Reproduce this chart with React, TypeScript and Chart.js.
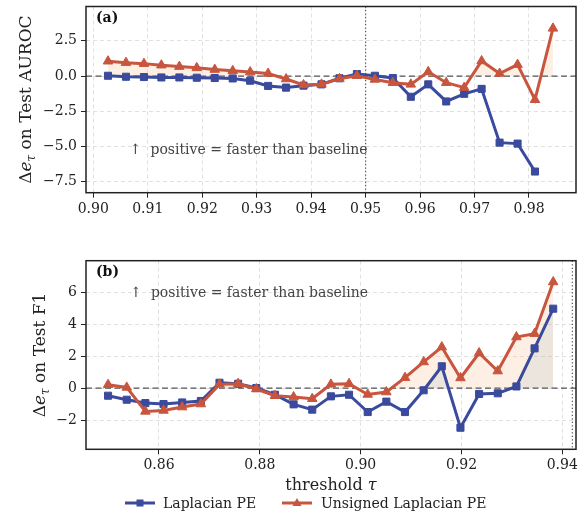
import React, { useEffect, useRef } from 'react';
import { Chart, registerables } from 'chart.js';
Chart.register(...registerables);

// ---------- data ----------
const xA = [0.9027, 0.9060, 0.9093, 0.9125, 0.9158, 0.9190, 0.9223, 0.9256, 0.9288, 0.9321, 0.9354, 0.9386, 0.9419,
  0.9452, 0.9484, 0.9517, 0.9550, 0.9583, 0.9615, 0.9648, 0.9681, 0.9713, 0.9746, 0.9779, 0.9811, 0.9844];
const blueA = [0.02, -0.05, -0.07, -0.10, -0.10, -0.12, -0.14, -0.17, -0.33, -0.70, -0.82, -0.68, -0.59,
  -0.16, 0.14, 0.02, -0.14, -1.47, -0.59, -1.80, -1.26, -0.91, -4.72, -4.79, -6.77];
const redA = [1.05, 0.95, 0.88, 0.77, 0.67, 0.58, 0.46, 0.37, 0.28, 0.18, -0.21, -0.63, -0.59,
  -0.19, 0.02, -0.24, -0.47, -0.59, 0.30, -0.47, -0.82, 1.07, 0.18, 0.81, -1.68, 3.38];

const xB = [0.8499, 0.8536, 0.8573, 0.8609, 0.8646, 0.8683, 0.8720, 0.8757, 0.8793, 0.8830, 0.8867, 0.8904, 0.8941,
  0.8977, 0.9014, 0.9051, 0.9088, 0.9125, 0.9161, 0.9198, 0.9235, 0.9272, 0.9309, 0.9345, 0.9382];
const blueB = [-0.48, -0.73, -0.94, -1.00, -0.90, -0.81, 0.33, 0.27, 0.00, -0.42, -1.02, -1.35, -0.52,
  -0.42, -1.50, -0.85, -1.50, -0.14, 1.36, -2.48, -0.37, -0.33, 0.10, 2.48, 4.96];
const redB = [0.21, 0.04, -1.46, -1.40, -1.19, -1.00, 0.23, 0.27, -0.06, -0.48, -0.56, -0.67, 0.23,
  0.27, -0.40, -0.25, 0.65, 1.63, 2.56, 0.63, 2.19, 1.06, 3.19, 3.40, 6.63];

const xTicksA = [0.90, 0.91, 0.92, 0.93, 0.94, 0.95, 0.96, 0.97, 0.98];
const yTicksA = [-7.5, -5.0, -2.5, 0.0, 2.5];
const xTicksB = [0.86, 0.88, 0.90, 0.92, 0.94];
const yTicksB = [-2, 0, 2, 4, 6];

const seriesNames = ['Laplacian PE', 'Unsigned Laplacian PE'];
const annotationText = '\u2191  positive = faster than baseline';

// ---------- style ----------
const FONT = '"DejaVu Serif", serif';
const BLUE = '#3A4A9C';
const RED = '#C8553D';

function fmt(v: number, d: number) {
  const s = Math.abs(v).toFixed(d);
  return v < -1e-9 ? '\u2212' + s : s;
}

type Panel = {
  canvasH: number; padTop: number; xAxisH: number;
  xMin: number; xMax: number; yMin: number; yMax: number;
  xTicks: number[]; yTicks: number[]; xDec: number; yDec: number;
  x: number[]; blue: number[]; red: number[];
  label: string; yTitleTail: string; yTitleX: number;
  annX: number; annY: number; vline: number; showXTitle: boolean;
};

function drawYTitle(ctx: CanvasRenderingContext2D, cx: number, cy: number, tail: string) {
  const size = 17;
  const parts: [string, string, number][] = [
    ['\u0394', `${size}px ${FONT}`, 0],
    ['e', `italic ${size}px ${FONT}`, 0],
    ['\u03c4', `italic ${Math.round(size * 0.7)}px ${FONT}`, size * 0.22],
    [tail, `${size}px ${FONT}`, 0],
  ];
  ctx.save();
  ctx.translate(cx, cy);
  ctx.rotate(-Math.PI / 2);
  ctx.fillStyle = '#222';
  ctx.textBaseline = 'alphabetic';
  ctx.textAlign = 'left';
  let total = 0;
  const widths = parts.map(([t, f]) => { ctx.font = f; const w = ctx.measureText(t).width; total += w; return w; });
  let px = -total / 2;
  parts.forEach(([t, f, dy], i) => {
    ctx.font = f;
    ctx.fillText(t, px, size * 0.35 + dy);
    px += widths[i];
  });
  ctx.restore();
}

function makeDeco(p: Panel) {
  return {
    id: 'deco',
    beforeDatasetsDraw(chart: any) {
      const { ctx, chartArea: a, scales } = chart;
      const xs = scales.x, ys = scales.y;
      ctx.save();
      ctx.beginPath();
      ctx.rect(a.left, a.top, a.right - a.left, a.bottom - a.top);
      ctx.clip();
      const y0 = ys.getPixelForValue(0);
      ctx.strokeStyle = '#555';
      ctx.lineWidth = 1.3;
      ctx.setLineDash([6, 3.5]);
      ctx.beginPath(); ctx.moveTo(a.left, y0); ctx.lineTo(a.right, y0); ctx.stroke();
      const xv = xs.getPixelForValue(p.vline);
      ctx.strokeStyle = '#555';
      ctx.lineWidth = 1.2;
      ctx.setLineDash([1.3, 2.2]);
      ctx.beginPath(); ctx.moveTo(xv, a.top); ctx.lineTo(xv, a.bottom); ctx.stroke();
      ctx.restore();
    },
    afterDraw(chart: any) {
      const { ctx, chartArea: a, scales } = chart;
      const xs = scales.x, ys = scales.y;
      ctx.save();
      ctx.strokeStyle = '#222';
      ctx.lineWidth = 1.5;
      ctx.setLineDash([]);
      ctx.strokeRect(a.left, a.top, a.right - a.left, a.bottom - a.top);
      ctx.fillStyle = '#111';
      ctx.font = `bold 14px ${FONT}`;
      ctx.textBaseline = 'middle';
      ctx.textAlign = 'left';
      ctx.fillText(p.label, a.left + 10, a.top + 12);
      ctx.fillStyle = '#444';
      ctx.font = `14px ${FONT}`;
      ctx.fillText(annotationText, xs.getPixelForValue(p.annX), ys.getPixelForValue(p.annY));
      ctx.restore();
      drawYTitle(ctx, p.yTitleX, (a.top + a.bottom) / 2, p.yTitleTail);
      if (p.showXTitle) {
        ctx.save();
        ctx.fillStyle = '#222';
        ctx.textBaseline = 'middle';
        ctx.textAlign = 'left';
        const t1 = 'threshold ';
        const t2 = '\u03c4';
        ctx.font = `16px ${FONT}`;
        const w1 = ctx.measureText(t1).width;
        ctx.font = `italic 16px ${FONT}`;
        const w2 = ctx.measureText(t2).width;
        const cx = (a.left + a.right) / 2;
        const yy = a.bottom + 37;
        ctx.font = `16px ${FONT}`;
        ctx.fillText(t1, cx - (w1 + w2) / 2, yy);
        ctx.font = `italic 16px ${FONT}`;
        ctx.fillText(t2, cx - (w1 + w2) / 2 + w1, yy);
        ctx.restore();
      }
    },
  };
}

function buildChart(canvas: HTMLCanvasElement, p: Panel) {
  const tickFont = { family: FONT, size: 14 };
  const gridOpts = {
    color: '#dcdcdc',
    lineWidth: 0.9,
    drawTicks: true,
    tickLength: 5,
    tickColor: '#222',
    tickWidth: 1,
    tickBorderDash: [],
  };
  return new Chart(canvas, {
    type: 'line',
    data: {
      datasets: [
        {
          label: seriesNames[1],
          data: p.red.map((v, i) => ({ x: p.x[i], y: v })),
          borderColor: RED,
          backgroundColor: RED,
          borderWidth: 3,
          pointStyle: 'triangle',
          pointRadius: 5.5,
          pointBorderWidth: 1,
          pointBorderColor: RED,
          pointBackgroundColor: RED,
          fill: { target: 'origin', above: 'rgba(247,192,145,0.25)', below: 'rgba(0,0,0,0)' },
          order: 0,
          tension: 0,
        },
        {
          label: seriesNames[0],
          data: p.blue.map((v, i) => ({ x: p.x[i], y: v })),
          borderColor: BLUE,
          backgroundColor: BLUE,
          borderWidth: 3,
          pointStyle: 'rect',
          pointRadius: 5,
          pointBorderWidth: 1,
          pointBorderColor: BLUE,
          pointBackgroundColor: BLUE,
          fill: { target: 'origin', above: 'rgba(78,147,194,0.12)', below: 'rgba(0,0,0,0)' },
          order: 1,
          tension: 0,
        },
      ],
    } as any,
    options: {
      responsive: false,
      animation: false,
      devicePixelRatio: 1,
      layout: { padding: { top: p.padTop, left: 0, right: 9, bottom: 0 } },
      plugins: {
        legend: { display: false },
        tooltip: { enabled: false },
        filler: { drawTime: 'beforeDatasetsDraw' },
      } as any,
      scales: {
        x: {
          type: 'linear',
          min: p.xMin,
          max: p.xMax,
          afterBuildTicks: (s: any) => { s.ticks = p.xTicks.map((v) => ({ value: v })); },
          afterFit: (s: any) => {
            s.height = p.xAxisH;
            s.paddingLeft = 0; s.paddingRight = 0; s.paddingTop = 0; s.paddingBottom = 0;
          },
          ticks: {
            font: tickFont,
            color: '#222',
            padding: 3,
            maxRotation: 0,
            autoSkip: false,
            callback: (v: any) => fmt(Number(v), p.xDec),
          },
          grid: gridOpts,
          border: { display: false, dash: [4, 3] },
        },
        y: {
          type: 'linear',
          min: p.yMin,
          max: p.yMax,
          afterBuildTicks: (s: any) => { s.ticks = p.yTicks.map((v) => ({ value: v })); },
          afterFit: (s: any) => {
            s.width = 86;
            s.paddingLeft = 0; s.paddingRight = 0; s.paddingTop = 0; s.paddingBottom = 0;
          },
          ticks: {
            font: tickFont,
            color: '#222',
            padding: 4,
            autoSkip: false,
            callback: (v: any) => fmt(Number(v), p.yDec),
          },
          grid: gridOpts,
          border: { display: false, dash: [4, 3] },
        },
      } as any,
    },
    plugins: [makeDeco(p)],
  });
}

const panelA: Panel = {
  canvasH: 230, padTop: 4, xAxisH: 37.3,
  xMin: 0.89866, xMax: 0.98863, yMin: -8.27, yMax: 4.93,
  xTicks: xTicksA, yTicks: yTicksA, xDec: 2, yDec: 1,
  x: xA, blue: blueA, red: redA,
  label: '(a)', yTitleTail: ' on Test AUROC', yTitleX: 25,
  annX: 0.9067, annY: -5.3, vline: 0.95, showXTitle: false,
};

const panelB: Panel = {
  canvasH: 260, padTop: 20.7, xAxisH: 50.7,
  xMin: 0.84552, xMax: 0.94272, yMin: -3.83, yMax: 7.96,
  xTicks: xTicksB, yTicks: yTicksB, xDec: 2, yDec: 0,
  x: xB, blue: blueB, red: redB,
  label: '(b)', yTitleTail: ' on Test F1', yTitleX: 39,
  annX: 0.8543, annY: 5.92, vline: 0.942, showXTitle: true,
};

function LegendIcon({ color, marker }: { color: string; marker: 'rect' | 'tri' }) {
  return (
    <svg width={32} height={14} style={{ display: 'block' }}>
      <line x1={1} y1={7} x2={31} y2={7} stroke={color} strokeWidth={3} />
      {marker === 'rect'
        ? <rect x={12.5} y={3.5} width={7} height={7} fill={color} />
        : <polygon points="16,2 20.5,10 11.5,10" fill={color} />}
    </svg>
  );
}

export default function App() {
  const refA = useRef<HTMLCanvasElement>(null);
  const refB = useRef<HTMLCanvasElement>(null);
  useEffect(() => {
    const a = buildChart(refA.current!, panelA);
    const b = buildChart(refB.current!, panelB);
    return () => { a.destroy(); b.destroy(); };
  }, []);
  const textStyle: React.CSSProperties = {
    position: 'absolute', top: 494, fontFamily: FONT, fontSize: 14, color: '#222',
    lineHeight: '18px', whiteSpace: 'nowrap',
  };
  return (
    <div style={{ position: 'fixed', left: 0, top: 0, width: 585, height: 515, background: '#fff', overflow: 'hidden' }}>
      <canvas ref={refA} width={585} height={panelA.canvasH}
        style={{ position: 'absolute', left: 0, top: 0, width: 585, height: panelA.canvasH }} />
      <canvas ref={refB} width={585} height={panelB.canvasH}
        style={{ position: 'absolute', left: 0, top: 240, width: 585, height: panelB.canvasH }} />
      <div style={{ position: 'absolute', left: 124, top: 496 }}><LegendIcon color={BLUE} marker="rect" /></div>
      <div style={{ ...textStyle, left: 163 }}>{seriesNames[0]}</div>
      <div style={{ position: 'absolute', left: 281, top: 496 }}><LegendIcon color={RED} marker="tri" /></div>
      <div style={{ ...textStyle, left: 321 }}>{seriesNames[1]}</div>
    </div>
  );
}
